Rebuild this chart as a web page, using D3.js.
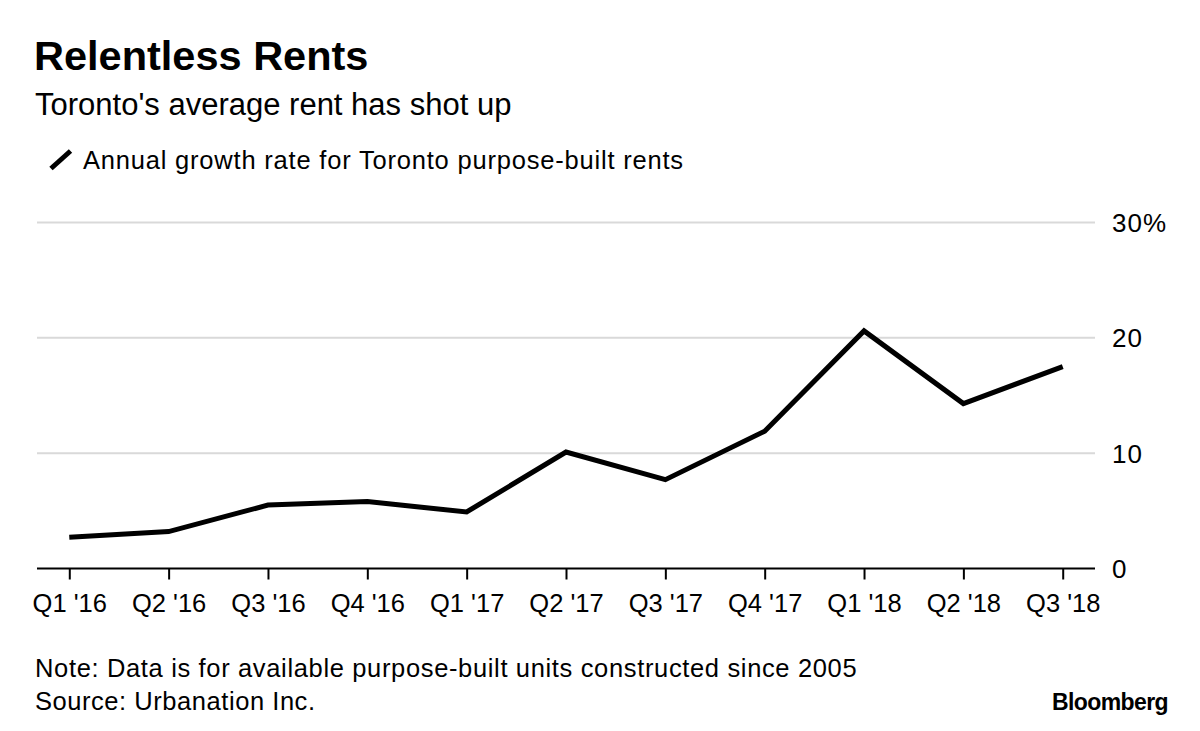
<!DOCTYPE html>
<html>
<head>
<meta charset="utf-8">
<script src="https://cdn.jsdelivr.net/npm/d3@7"></script>
<style>
  html, body { margin: 0; padding: 0; background: #fff; }
  svg { display: block; font-family: "Liberation Sans", Arial, Helvetica, sans-serif; }
</style>
</head>
<body>
<svg id="chart" width="1200" height="731"></svg>
<script>
const categories = ["Q1 '16", "Q2 '16", "Q3 '16", "Q4 '16", "Q1 '17", "Q2 '17", "Q3 '17", "Q4 '17", "Q1 '18", "Q2 '18", "Q3 '18"];
const growthRate = [2.7, 3.2, 5.5, 5.8, 4.9, 10.1, 7.7, 11.9, 20.6, 14.3, 17.5];
const yTicks = [0, 10, 20, 30];
const yTickLabels = ["0", "10", "20", "30%"];

(function () {
const svg = d3.select("#chart");
const plotLeft = 37, plotRight = 1095, plotTop = 222.5, plotBottom = 568.5;

const x = d3.scalePoint().domain(categories).range([plotLeft, plotRight]).padding(0.325);
const y = d3.scaleLinear().domain([0, 30]).range([plotBottom, plotTop]);

// Title block
svg.append("text").attr("x", 34).attr("y", 70)
  .attr("font-size", 41.5).attr("font-weight", "bold")
  .attr("fill", "#000").text("Relentless Rents");
svg.append("text").attr("x", 35).attr("y", 115)
  .attr("font-size", 31).attr("fill", "#000").text("Toronto's average rent has shot up");

// Legend
svg.append("line").attr("x1", 51).attr("y1", 168.5).attr("x2", 70.5).attr("y2", 151)
  .attr("stroke", "#000").attr("stroke-width", 5);
svg.append("text").attr("x", 83).attr("y", 169)
  .attr("font-size", 25.5).attr("letter-spacing", 0.8).attr("fill", "#000")
  .text("Annual growth rate for Toronto purpose-built rents");

// Gridlines
svg.append("g").selectAll("line").data(yTicks.filter(d => d > 0)).join("line")
  .attr("x1", plotLeft).attr("x2", plotRight)
  .attr("y1", d => y(d)).attr("y2", d => y(d))
  .attr("stroke", "#d9d9d9").attr("stroke-width", 2);

// Y labels
svg.append("g").selectAll("text").data(yTicks).join("text")
  .attr("x", 1112).attr("y", d => y(d) + 9.5)
  .attr("font-size", 26).attr("letter-spacing", 1).attr("fill", "#000")
  .text((d, i) => yTickLabels[i]);

// X axis
const xAxis = d3.axisBottom(x).tickSize(11).tickSizeOuter(0).tickPadding(14);
const gx = svg.append("g").attr("transform", `translate(0,${plotBottom})`).call(xAxis);
gx.select(".domain").attr("stroke", "#000").attr("stroke-width", 2).attr("d", `M${plotLeft},0H${plotRight}`);
gx.selectAll(".tick line").attr("stroke", "#000").attr("stroke-width", 2);
gx.selectAll(".tick text").attr("font-size", 25.5).attr("fill", "#000")
  .attr("font-family", "'Liberation Sans', Arial, sans-serif");

// Line
const line = d3.line().x((d, i) => x(categories[i])).y(d => y(d));
svg.append("path").datum(growthRate).attr("d", line)
  .attr("fill", "none").attr("stroke", "#000").attr("stroke-width", 5)
  .attr("stroke-linejoin", "miter");

// Footer
svg.append("text").attr("x", 35).attr("y", 677)
  .attr("font-size", 25.5).attr("letter-spacing", 0.65).attr("fill", "#000")
  .text("Note: Data is for available purpose-built units constructed since 2005");
svg.append("text").attr("x", 35).attr("y", 710)
  .attr("font-size", 25.5).attr("letter-spacing", 0.55).attr("fill", "#000")
  .text("Source: Urbanation Inc.");
svg.append("text").attr("x", 1168).attr("y", 710).attr("text-anchor", "end")
  .attr("font-size", 23).attr("font-weight", "bold").attr("letter-spacing", -0.6)
  .attr("fill", "#000").text("Bloomberg");
})();
</script>
</body>
</html>
